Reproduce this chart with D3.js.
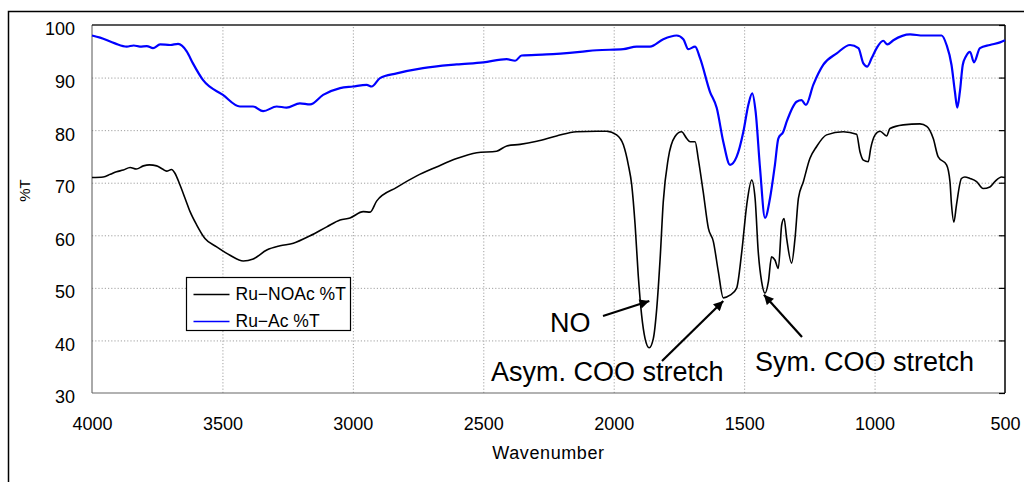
<!DOCTYPE html>
<html>
<head>
<meta charset="utf-8">
<script src="https://cdn.jsdelivr.net/npm/d3@7"></script>
<style>
  body { margin: 0; background: #fff; }
  svg { display: block; font-family: 'Liberation Sans', Arial, sans-serif; }
  .grid line { stroke: #a0a0a0; stroke-dasharray: 1.2 2; }
  .grid .domain { display: none; }
</style>
</head>
<body>
<div class="chart"></div>
<script>
// Ru-NOAc %T (black)
const noacWave = [4000, 3957, 3930, 3906, 3880, 3854, 3830, 3803, 3780, 3752, 3730, 3714, 3695, 3682, 3663, 3643, 3624, 3599, 3567, 3522, 3471, 3420, 3382, 3330, 3279, 3228, 3164, 3100, 3049, 3011, 2960, 2934, 2909, 2832, 2755, 2679, 2602, 2525, 2449, 2410, 2359, 2295, 2219, 2142, 2065, 2027, 1989, 1963, 1944, 1931, 1918, 1906, 1893, 1880, 1864, 1848, 1835, 1822, 1810, 1791, 1765, 1740, 1720, 1707, 1688, 1676, 1657, 1637, 1618, 1599, 1580, 1554, 1529, 1509, 1490, 1471, 1458, 1446, 1433, 1420, 1407, 1395, 1382, 1369, 1356, 1347, 1337, 1318, 1305, 1292, 1273, 1248, 1222, 1184, 1120, 1069, 1056, 1043, 1024, 1015, 998, 979, 954, 941, 890, 826, 800, 775, 756, 724, 711, 705, 696, 686, 667, 654, 634, 609, 584, 558, 539, 513, 500]
const noacT = [71.0, 71.1, 71.6, 72.1, 72.4, 72.9, 72.6, 73.2, 73.4, 73.2, 72.6, 72.2, 72.5, 71.8, 69.6, 67.0, 64.5, 62.0, 59.4, 57.8, 56.2, 55.1, 55.5, 57.2, 58.0, 58.5, 59.9, 61.6, 62.9, 63.3, 64.5, 64.4, 66.5, 69.1, 71.3, 73.0, 74.6, 75.7, 76.0, 77.0, 77.3, 77.9, 78.9, 79.7, 79.8, 79.8, 79.1, 77.2, 73.4, 69.6, 62.0, 52.4, 44.8, 40.4, 38.6, 40.4, 46.1, 55.6, 66.4, 74.6, 78.8, 79.7, 78.4, 77.8, 77.8, 74.6, 68.3, 61.3, 58.8, 53.1, 48.1, 48.6, 49.9, 56.9, 65.8, 70.5, 67.0, 56.9, 51.2, 49.0, 51.2, 55.9, 55.3, 53.7, 62.0, 63.2, 59.4, 54.7, 59.4, 67.0, 70.2, 74.6, 76.9, 79.1, 79.7, 79.2, 75.9, 74.3, 74.0, 76.5, 79.1, 79.8, 78.9, 80.3, 81.0, 81.2, 80.7, 78.4, 74.9, 73.4, 70.2, 65.8, 62.5, 65.8, 70.8, 71.1, 70.8, 70.2, 68.9, 69.2, 70.2, 71.1, 71.0]

// Ru-Ac %T (blue)
const acWave = [4000, 3969, 3912, 3867, 3840, 3816, 3790, 3766, 3739, 3700, 3670, 3637, 3613, 3574, 3498, 3433, 3383, 3344, 3292, 3254, 3203, 3164, 3114, 3049, 3000, 2947, 2928, 2896, 2832, 2731, 2602, 2500, 2410, 2378, 2353, 2257, 2129, 2065, 1963, 1912, 1861, 1810, 1759, 1733, 1714, 1688, 1669, 1631, 1605, 1580, 1554, 1529, 1503, 1484, 1469, 1456, 1439, 1420, 1401, 1382, 1369, 1350, 1337, 1299, 1280, 1263, 1235, 1197, 1145, 1094, 1062, 1043, 1028, 1011, 992, 967, 951, 928, 864, 813, 743, 724, 705, 692, 683, 673, 662, 650, 634, 619, 596, 558, 519, 500]
const acT = [98.0, 97.6, 96.5, 95.9, 96.1, 95.9, 96.0, 95.6, 96.3, 96.2, 96.4, 95.0, 92.7, 89.5, 86.7, 84.5, 84.5, 83.6, 84.5, 84.3, 85.1, 84.9, 86.7, 88.0, 88.3, 88.6, 88.3, 89.9, 90.8, 91.8, 92.5, 92.9, 93.5, 93.2, 94.2, 94.4, 94.9, 95.2, 95.4, 95.9, 95.9, 97.3, 98.0, 97.3, 95.4, 95.9, 93.7, 87.3, 84.2, 77.8, 73.4, 74.9, 79.7, 84.8, 87.0, 83.5, 72.7, 63.3, 67.0, 73.4, 78.4, 79.7, 81.6, 85.4, 85.7, 84.8, 88.6, 92.4, 94.6, 96.2, 95.6, 92.7, 92.1, 93.7, 95.6, 97.0, 96.3, 97.1, 98.2, 98.0, 98.0, 96.2, 92.4, 87.3, 84.3, 87.3, 92.4, 94.0, 94.9, 92.9, 95.6, 96.2, 96.7, 97.1]

const xTicks = [4000, 3500, 3000, 2500, 2000, 1500, 1000, 500]
const yTicks = [30, 40, 50, 60, 70, 80, 90, 100]
const seriesNames = ['Ru\u2212NOAc %T', 'Ru\u2212Ac %T']
const seriesColors = ['#000000', '#0000ff']

// peak labels: [text, wavenumber of tip, %T of tip]
const notes = [
  ['NO', 1875, 47.5],
  ['Asym. COO stretch', 1580, 47.5],
  ['Sym. COO stretch', 1405, 48.7],
]

const width = 1024
const height = 482
const plot = { left: 92, right: 1005, top: 25, bottom: 393 }

const svg = d3
  .select('.chart')
  .append('svg')
  .attr('width', width)
  .attr('height', height)

// outer chart frame (runs off the right / bottom of the picture)
svg
  .append('rect')
  .attr('x', 8.5)
  .attr('y', 11.5)
  .attr('width', 1030)
  .attr('height', 490)
  .style('fill', 'none')
  .style('stroke', '#000')
  .style('stroke-width', 1.5)

let x = d3.scaleLinear().domain([4000, 500]).range([plot.left, plot.right])
let y = d3.scaleLinear().domain([30, 100]).range([plot.bottom, plot.top])

// grid
svg
  .append('g')
  .attr('class', 'grid')
  .attr('transform', `translate(${plot.left},0)`)
  .call(
    d3.axisLeft(y).tickValues(yTicks.slice(1, -1))
      .tickSize(-(plot.right - plot.left))
      .tickFormat('')
  )
svg
  .append('g')
  .attr('class', 'grid')
  .attr('transform', `translate(0,${plot.bottom})`)
  .call(
    d3.axisBottom(x).tickValues(xTicks.slice(1, -1))
      .tickSize(-(plot.bottom - plot.top))
      .tickFormat('')
  )

// plot border
svg.append('line')
  .attr('x1', plot.left).attr('x2', plot.left)
  .attr('y1', plot.top).attr('y2', plot.bottom)
  .style('stroke', '#555').style('stroke-width', 1)
svg.append('line')
  .attr('x1', plot.left).attr('x2', plot.right)
  .attr('y1', plot.bottom).attr('y2', plot.bottom)
  .style('stroke', '#666').style('stroke-width', 1.2)
svg.append('line')
  .attr('x1', plot.left).attr('x2', plot.right)
  .attr('y1', plot.top).attr('y2', plot.top)
  .style('stroke', '#222').style('stroke-width', 1.5)
svg.append('line')
  .attr('x1', plot.right).attr('x2', plot.right)
  .attr('y1', plot.top).attr('y2', plot.bottom)
  .style('stroke', '#000').style('stroke-width', 1.5)

// inner ticks on the right edge
svg
  .append('g')
  .attr('transform', `translate(${plot.right},0)`)
  .call(d3.axisLeft(y).tickValues(yTicks).tickSize(6).tickFormat(''))
  .call((g) => g.select('.domain').remove())
  .selectAll('line')
  .style('stroke', '#000')
  .style('stroke-width', 1.2)

// y labels
svg
  .append('g')
  .attr('transform', `translate(${plot.left},0)`)
  .call(d3.axisLeft(y).tickValues(yTicks).tickSize(0).tickPadding(17))
  .call((g) => g.select('.domain').remove())
  .selectAll('text')
  .attr('dy', '0.55em')
  .style('font-size', '18px')
  .style('font-family', "'Liberation Sans', Arial, sans-serif")
  .style('fill', '#000')

// x labels
svg
  .append('g')
  .attr('transform', `translate(0,${plot.bottom})`)
  .call(
    d3.axisBottom(x).tickValues(xTicks).tickSize(0).tickPadding(24)
      .tickFormat(d3.format('d'))
  )
  .call((g) => g.select('.domain').remove())
  .selectAll('text')
  .style('font-size', '18px')
  .style('font-family', "'Liberation Sans', Arial, sans-serif")
  .style('fill', '#000')

svg
  .append('text')
  .attr('x', (plot.left + plot.right) / 2)
  .attr('y', 459)
  .attr('text-anchor', 'middle')
  .style('font-size', '18px')
  .style('letter-spacing', '0.6px')
  .text('Wavenumber')

svg
  .append('text')
  .attr('transform', 'translate(30,190.5) rotate(-90)')
  .attr('text-anchor', 'middle')
  .style('font-size', '15px')
  .text('%T')

// spectra
let line = d3
  .line()
  .x((d) => x(d[0]))
  .y((d) => y(d[1]))
  .curve(d3.curveMonotoneX)

svg
  .append('path')
  .datum(d3.zip(acWave, acT))
  .attr('d', line)
  .style('fill', 'none')
  .style('stroke', seriesColors[1])
  .style('stroke-width', 2.2)
  .style('stroke-linejoin', 'round')

svg
  .append('path')
  .datum(d3.zip(noacWave, noacT))
  .attr('d', line)
  .style('fill', 'none')
  .style('stroke', seriesColors[0])
  .style('stroke-width', 1.6)
  .style('stroke-linejoin', 'round')

// legend
let legend = svg.append('g').attr('transform', 'translate(186.5,277.5)')
legend
  .append('rect')
  .attr('width', 164)
  .attr('height', 53)
  .style('fill', '#fff')
  .style('stroke', '#000')
  .style('stroke-width', 1.2)
seriesNames.forEach((name, i) => {
  legend
    .append('line')
    .attr('x1', 7)
    .attr('x2', 43)
    .attr('y1', 17 + i * 27)
    .attr('y2', 17 + i * 27)
    .style('stroke', seriesColors[i])
    .style('stroke-width', 1.5)
  legend
    .append('text')
    .attr('x', 49)
    .attr('y', 22.5 + i * 27.3)
    .style('font-size', '17.5px')
    .text(name)
})

// annotations
svg
  .append('defs')
  .append('marker')
  .attr('id', 'head')
  .attr('viewBox', '0 0 10 10')
  .attr('refX', 10)
  .attr('refY', 5)
  .attr('markerWidth', 5)
  .attr('markerHeight', 4.4)
  .attr('markerUnits', 'strokeWidth')
  .attr('orient', 'auto')
  .append('path')
  .attr('d', 'M0,0L10,5L0,10Z')
  .style('fill', '#000')

const labelPos = [
  { tx: 550, ty: 331.5, ax: 603, ay: 316 },
  { tx: 491, ty: 381, ax: 662, ay: 361 },
  { tx: 755, ty: 370.5, ax: 802, ay: 337 },
]
notes.forEach((n, i) => {
  let p = labelPos[i]
  svg
    .append('text')
    .attr('x', p.tx)
    .attr('y', p.ty)
    .style('font-size', '27px')
    .text(n[0])
  svg
    .append('line')
    .attr('x1', p.ax)
    .attr('y1', p.ay)
    .attr('x2', x(n[1]) + (i === 0 ? 3 : i === 1 ? 0 : -5))
    .attr('y2', y(n[2]))
    .style('stroke', '#000')
    .style('stroke-width', 2.2)
    .attr('marker-end', 'url(#head)')
})
</script>
</body>
</html>
